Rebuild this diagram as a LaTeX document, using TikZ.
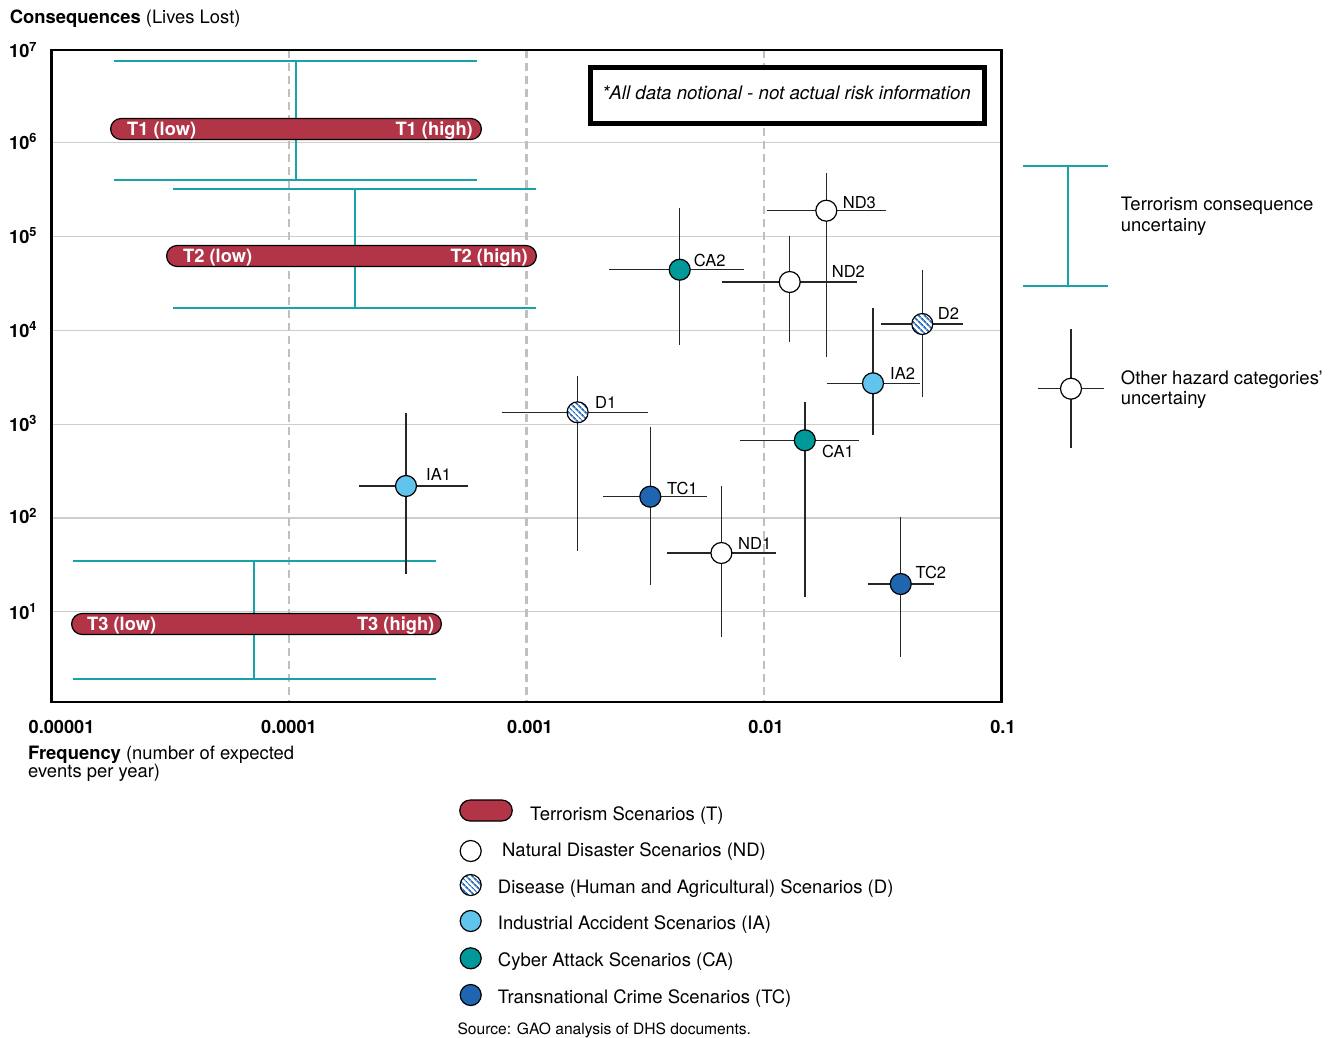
\documentclass[tikz,border=0pt]{standalone}
\usepackage{fontspec}
\setmainfont{TeX Gyre Heros}
\usetikzlibrary{patterns.meta}

\definecolor{riskred}{HTML}{B23447}
\definecolor{uncteal}{HTML}{17A3A7}
\definecolor{cyberteal}{HTML}{009999}
\definecolor{indblue}{HTML}{62C3EC}
\definecolor{crimeblue}{HTML}{1F65B0}
\definecolor{hatchblue}{HTML}{2D6FBF}
\definecolor{gridgray}{HTML}{CDCDCD}
\definecolor{dashgray}{HTML}{C0C0C0}

\begin{document}
\begin{tikzpicture}[x=1pt, y=-1pt,
    gridline/.style={gridgray, line width=1.2pt},
    freqline/.style={dashgray, line width=2.5pt, dash pattern=on 8pt off 5pt},
    errbar/.style={black!85, line width=1.4pt},
    tbar/.style={uncteal, line width=2pt},
    tpill/.style={draw=black, fill=riskred, line width=1.2pt, rounded corners=10.5pt, minimum height=21pt, inner sep=0pt},
    tlabel/.style={white, font=\bfseries\fontsize{18.3}{18}\selectfont, inner sep=0pt},
    ptdot/.style={circle, draw=black, line width=1.2pt, minimum size=21pt, inner sep=0pt},
    ptlabel/.style={font=\fontsize{16.5}{18}\selectfont, inner sep=0pt, anchor=base west},
    ticklabel/.style={font=\bfseries\fontsize{18.2}{18}\selectfont, inner sep=0pt, anchor=base},
    legtext/.style={font=\fontsize{18.5}{20.5}\selectfont, inner sep=0pt},
    ndfill/.style={fill=white},
    dfill/.style={preaction={fill=white}, pattern={Lines[angle=-45,distance=4pt,line width=1.8pt]}, pattern color=hatchblue},
    iafill/.style={fill=indblue},
    cafill/.style={fill=cyberteal},
    tcfill/.style={fill=crimeblue}]
    \useasboundingbox (0,0) rectangle (1335,1038);

    % Grid
    \draw[gridline] (51.5,142.7) -- (1001.5,142.7) (51.5,236.5) -- (1001.5,236.5)
        (51.5,330.3) -- (1001.5,330.3) (51.5,424.1) -- (1001.5,424.1)
        (51.5,517.9) -- (1001.5,517.9) (51.5,611.7) -- (1001.5,611.7);
    \draw[freqline] (289,50) -- (289,702) (526.5,50) -- (526.5,702) (764,50) -- (764,702);

    % Axes
    \draw[line width=2.5pt] (51.5,50) rectangle (1001.5,702);
    \node[anchor=base west, inner sep=0pt, font=\fontsize{18.4}{18}\selectfont] (ytitle) at (9.6,24) {\textbf{Consequences} (Lives Lost)};
    \node[ticklabel, anchor=base west] (y7) at (9,58) {10\textsuperscript{7}};
    \node[ticklabel, anchor=base west] (y6) at (9,149.2) {10\textsuperscript{6}};
    \node[ticklabel, anchor=base west] (y5) at (9,243) {10\textsuperscript{5}};
    \node[ticklabel, anchor=base west] (y4) at (9,337) {10\textsuperscript{4}};
    \node[ticklabel, anchor=base west] (y3) at (9,431) {10\textsuperscript{3}};
    \node[ticklabel, anchor=base west] (y2) at (9,523.5) {10\textsuperscript{2}};
    \node[ticklabel, anchor=base west] (y1) at (9,619) {10\textsuperscript{1}};
    \node[ticklabel, anchor=base west] (x5) at (28.5,733) {0.00001};
    \node[ticklabel] (x4) at (289,733) {0.0001};
    \node[ticklabel] (x3) at (530,733) {0.001};
    \node[ticklabel] (x2) at (766,733) {0.01};
    \node[ticklabel] (x1) at (1003,733) {0.1};
    \node[legtext, anchor=west, align=left, font=\fontsize{18.4}{17.5}\selectfont] (xtitle) at (28,764) {\textbf{Frequency} (number of expected\\events per year)};

    % Note
    \draw[line width=4.7pt, fill=white] (590.4,67.7) rectangle (984.3,123.6);
    \node[legtext, font=\itshape\fontsize{18.7}{18}\selectfont] (note) at (786.5,92.5) {*All data notional - not actual risk information};

    % Terrorism scenarios
    \draw[tbar] (114,61) -- (477,61) (114,180) -- (477,180) (296,61) -- (296,180);
    \node[tpill, minimum width=370.8] (t1) at (296,129) {};
    \node[tlabel, anchor=west] at ([xshift=17pt,yshift=-1.6pt]t1.west) {T1 (low)};
    \node[tlabel, anchor=east] at ([xshift=-9pt,yshift=-1.6pt]t1.east) {T1 (high)};

    \draw[tbar] (173,189) -- (536,189) (173,308) -- (536,308) (355,189) -- (355,308);
    \node[tpill, minimum width=369.8] (t2) at (351.5,256) {};
    \node[tlabel, anchor=west] at ([xshift=17pt,yshift=-1.6pt]t2.west) {T2 (low)};
    \node[tlabel, anchor=east] at ([xshift=-9pt,yshift=-1.6pt]t2.east) {T2 (high)};

    \draw[tbar] (73,561) -- (436,561) (73,679) -- (436,679) (254,561) -- (254,679);
    \node[tpill, minimum width=369.8] (t3) at (256.5,624) {};
    \node[tlabel, anchor=west] at ([xshift=16pt,yshift=-1.6pt]t3.west) {T3 (low)};
    \node[tlabel, anchor=east] at ([xshift=-7.5pt,yshift=-1.6pt]t3.east) {T3 (high)};

    % Other scenarios
    \draw[errbar] (359,486) -- (468,486) (406,413) -- (406,574);
    \node[ptdot, iafill] (ia1) at (406,486) {};
    \node[ptlabel] at (426,480) {IA1};

    \draw[errbar] (501.7,412.3) -- (647.6,412.3) (577.6,376) -- (577.6,551);
    \node[ptdot, dfill] (d1) at (577.6,412.3) {};
    \node[ptlabel] at (595,408.3) {D1};

    \draw[errbar] (603.4,496.7) -- (706.9,496.7) (650.3,426.7) -- (650.3,585);
    \node[ptdot, tcfill] (tc1) at (650.3,496.7) {};
    \node[ptlabel] at (667,494) {TC1};

    \draw[errbar] (666.6,553) -- (775.5,553) (721.4,486) -- (721.4,636.7);
    \node[ptdot, ndfill] (nd1) at (721.4,553) {};
    \node[ptlabel] at (738,549.3) {ND1};

    \draw[errbar] (739.7,440.3) -- (859.3,440.3) (804.8,402) -- (804.8,597.3);
    \node[ptdot, cafill] (ca1) at (804.8,440.3) {};
    \node[ptlabel] at (822,457.7) {CA1};

    \draw[errbar] (826.6,383.3) -- (919.7,383.3) (873,308) -- (873,435);
    \node[ptdot, iafill] (ia2) at (873,383.3) {};
    \node[ptlabel] at (890,379.3) {IA2};

    \draw[errbar] (867.6,584) -- (933.8,584) (900.7,517) -- (900.7,656.7);
    \node[ptdot, tcfill] (tc2) at (900.7,584) {};
    \node[ptlabel] at (915.5,578.7) {TC2};

    \draw[errbar] (766.7,210.7) -- (886,210.7) (826.3,172.7) -- (826.3,356.7);
    \node[ptdot, ndfill] (nd3) at (826.3,210.7) {};
    \node[ptlabel] at (842.7,208.3) {ND3};

    \draw[errbar] (609.3,269.7) -- (744.3,269.7) (679.7,208.3) -- (679.7,345);
    \node[ptdot, cafill] (ca2) at (679.7,269.7) {};
    \node[ptlabel] at (693.7,266) {CA2};

    \draw[errbar] (722,282) -- (856.7,282) (789.7,235.7) -- (789.7,341.7);
    \node[ptdot, ndfill] (nd2) at (789.7,282) {};
    \node[ptlabel] at (831.7,277) {ND2};

    \draw[errbar] (880.7,324) -- (962.7,324) (922.3,270) -- (922.3,396.7);
    \node[ptdot, dfill] (d2) at (922.3,324) {};
    \node[ptlabel] at (937.7,319.3) {D2};

    % Uncertainty key
    \draw[tbar] (1023.3,166) -- (1107.7,166) (1023.3,285.7) -- (1107.7,285.7) (1068.3,166) -- (1068.3,285.7);
    \node[legtext, anchor=west, align=left] (tunc) at (1120.7,216.5) {Terrorism consequence\\uncertainy};
    \draw[errbar] (1037.7,388.7) -- (1104.3,388.7) (1071,329.3) -- (1071,447.7);
    \node[ptdot, ndfill] (okey) at (1071,388.7) {};
    \node[legtext, anchor=west, align=left] (ounc) at (1120.7,389.4) {Other hazard categories'\\uncertainy};

    % Legend
    \node[tpill, minimum width=52.5] (tkey) at (486,810.5) {};
    \node[legtext, anchor=base west] at (530,820) {Terrorism Scenarios (T)};
    \node[ptdot, ndfill] (ndkey) at (470.7,851) {};
    \node[legtext, anchor=base west] at (502,856.5) {Natural Disaster Scenarios (ND)};
    \node[ptdot, dfill] (dkey) at (470.7,885) {};
    \node[legtext, anchor=base west] at (497.7,893) {Disease (Human and Agricultural) Scenarios (D)};
    \node[ptdot, iafill] (iakey) at (470.7,921) {};
    \node[legtext, anchor=base west] at (497.7,929.5) {Industrial Accident Scenarios (IA)};
    \node[ptdot, cafill] (cakey) at (470.7,958.3) {};
    \node[legtext, anchor=base west] at (497.7,966.5) {Cyber Attack Scenarios (CA)};
    \node[ptdot, tcfill] (tckey) at (470.7,995) {};
    \node[legtext, anchor=base west] at (497.7,1003) {Transnational Crime Scenarios (TC)};
    \node[legtext, anchor=base west, font=\fontsize{15.6}{16}\selectfont] (source) at (457.3,1034.5) {Source: GAO analysis of DHS documents.};

\end{tikzpicture}
\end{document}
